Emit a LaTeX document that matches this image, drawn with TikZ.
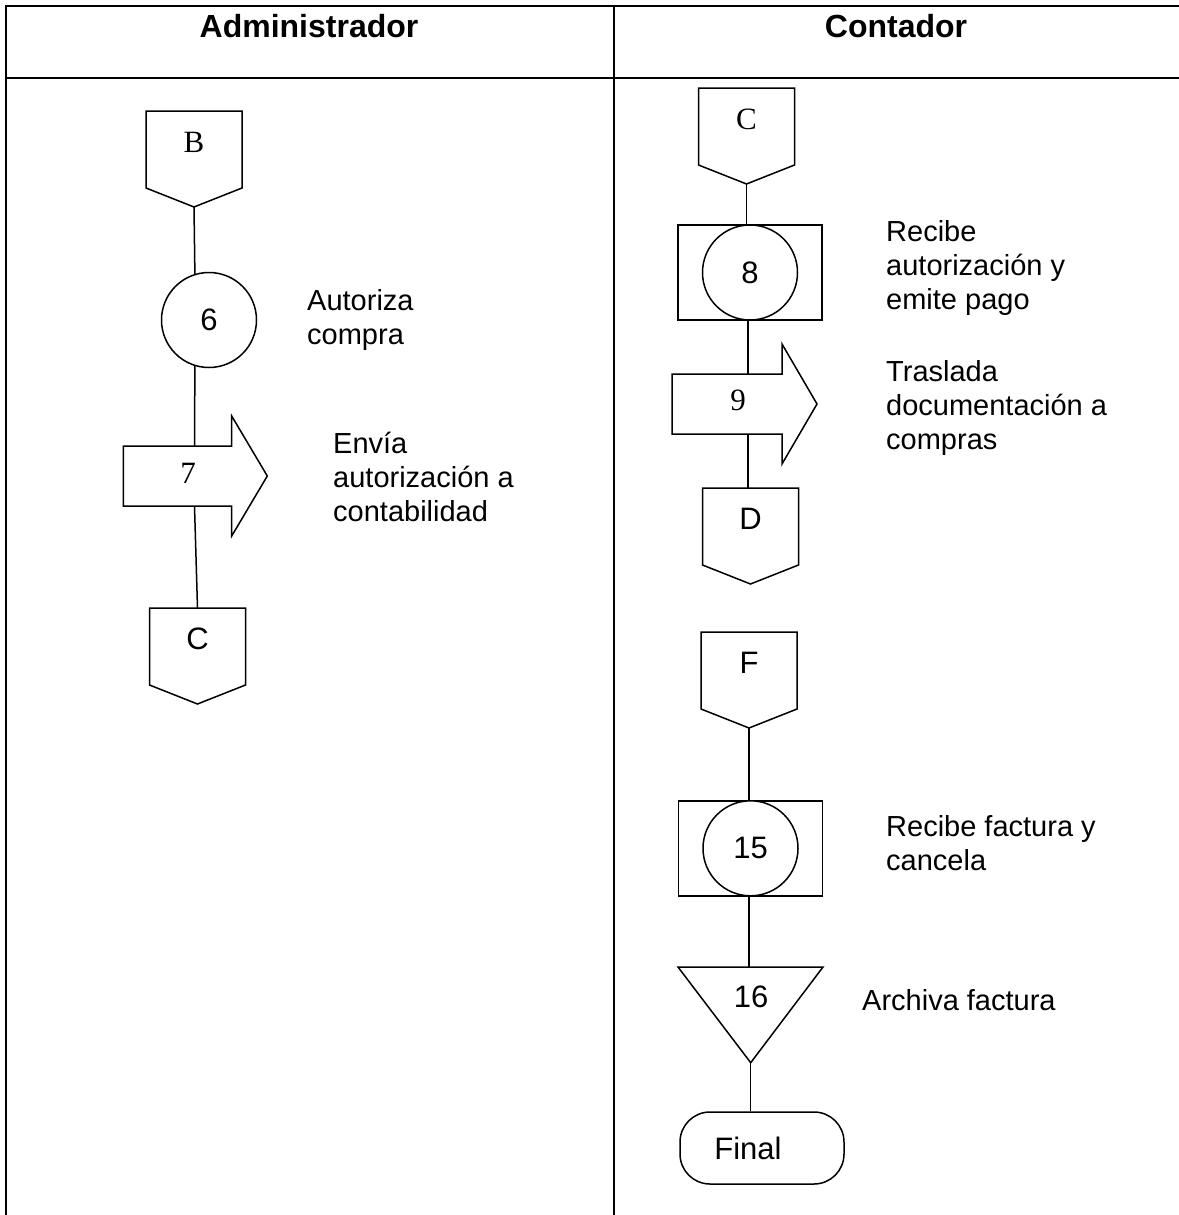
\documentclass[tikz,border=0pt]{standalone}
\usepackage{fontspec}
\setmainfont{Liberation Sans}
\newfontfamily\serifface{Liberation Serif}
\usetikzlibrary{calc}

% off-page connector: name, centre x, top y, text style, letter
\newcommand\OffPage[5]{%
  \draw[sym] (#2-48,#3) -- (#2+48,#3) -- (#2+48,#3+77) -- (#2,#3+96)
             -- (#2-48,#3+77) -- cycle;
  \node[#4] (#1) at (#2,#3+31) {#5};
  \coordinate (#1-top) at (#2,#3);
  \coordinate (#1-tip) at (#2,#3+96);
}

\begin{document}
\begin{tikzpicture}[x=1pt,y=-1pt,
  grid/.style={line width=2pt},
  sym/.style={draw, line width=1.5pt, fill=white, line join=miter},
  link/.style={line width=1.5pt},
  sans/.style={font=\fontsize{31}{34}\selectfont, inner sep=0pt},
  serif/.style={font=\serifface\fontsize{31}{34}\selectfont, inner sep=0pt},
  note/.style={font=\fontsize{29}{34}\selectfont, align=left,
               anchor=north west, inner sep=0pt},
  head/.style={font=\bfseries\fontsize{32}{36}\selectfont, inner sep=0pt},
  disc/.style={circle, draw, line width=1.5pt, fill=white,
               minimum size=95pt, inner sep=0pt, sans},
  frame/.style={draw, line width=1.5pt, fill=white, inner sep=0pt},
]
\useasboundingbox (0,0) rectangle (1178,1215);

% ---- table ----
\draw[grid] (1180,6) -- (6,6) -- (6,1217);
\draw[grid] (6,78) -- (1180,78);
\draw[grid] (614,6) -- (614,1217);
\node[head] (hadm) at (309,26) {Administrador};
\node[head] (hcon) at (896,26) {Contador};

% ---- Administrador ----
\OffPage{ofB}{194}{111}{serif}{B}
\node[disc] (c6) at (209,320) {6};
\node[note] (n6) at (307,289.5) {Autoriza\\compra};

\draw[sym] (123.3,446) -- (231.7,446) -- (231.7,416) -- (267.3,476)
           -- (231.7,536) -- (231.7,506) -- (123.3,506) -- cycle;
\node[serif] (a7) at (188,473) {7};
\coordinate (a7-top) at (194.5,446);
\coordinate (a7-bot) at (194.5,506);
\node[note] (n7) at (333,431.5) {Envía\\autorización a\\contabilidad};

\OffPage{ofCl}{197.5}{608}{sans}{C}

\draw[link] (ofB-tip) -- (c6.107);
\draw[link] (c6.253) -- (a7-top);
\draw[link] (a7-bot) -- (ofCl-top);

% ---- Contador ----
\OffPage{ofCr}{746.5}{88}{serif}{C}

\node[frame, minimum width=144pt, minimum height=95pt] (r8) at (750,272.5) {};
\node[disc] (c8) at (750,272.5) {8};
\node[note] (n8) at (886,220.5) {Recibe\\autorización y\\emite pago};

\draw[sym] (672,374) -- (782,374) -- (782,344) -- (817,404)
           -- (782,464) -- (782,434) -- (672,434) -- cycle;
\node[serif] (a9) at (738,400) {9};
\coordinate (a9-top) at (748,374);
\coordinate (a9-bot) at (748,434);
\node[note] (n9) at (886,360.5) {Traslada\\documentación a\\compras};

\OffPage{ofD}{750.5}{488}{sans}{D}

\draw[link] (ofCr-tip) -- (ofCr-tip |- r8.north);
\draw[link] (a9-top |- r8.south) -- (a9-top);
\draw[link] (a9-bot) -- (a9-bot |- ofD-top);

\OffPage{ofF}{749}{632}{sans}{F}

\node[frame, minimum width=144pt, minimum height=95pt] (r15) at (750.3,848.3) {};
\node[disc] (c15) at (750.5,848.3) {15};
\node[note] (n15) at (886,815.5) {Recibe factura y\\cancela};

\draw[sym] (678,967) -- (823,967) -- (750.7,1062.7) -- cycle;
\node[sans] (t16) at (751,997) {16};
\coordinate (t16-top) at (749,967);
\coordinate (t16-tip) at (750.7,1062.7);
\node[note] (n16) at (862,989.5) {Archiva factura};

\node[frame, rounded corners=30pt, minimum width=164pt, minimum height=72pt]
  (fin) at (762,1148) {};
\node[sans] (fintxt) at (748,1148) {Final};

\draw[link] (ofF-tip) -- (ofF-tip |- r15.north);
\draw[link] (t16-top |- r15.south) -- (t16-top);
\draw[link] (t16-tip) -- (t16-tip |- fin.north);

\end{tikzpicture}
\end{document}
